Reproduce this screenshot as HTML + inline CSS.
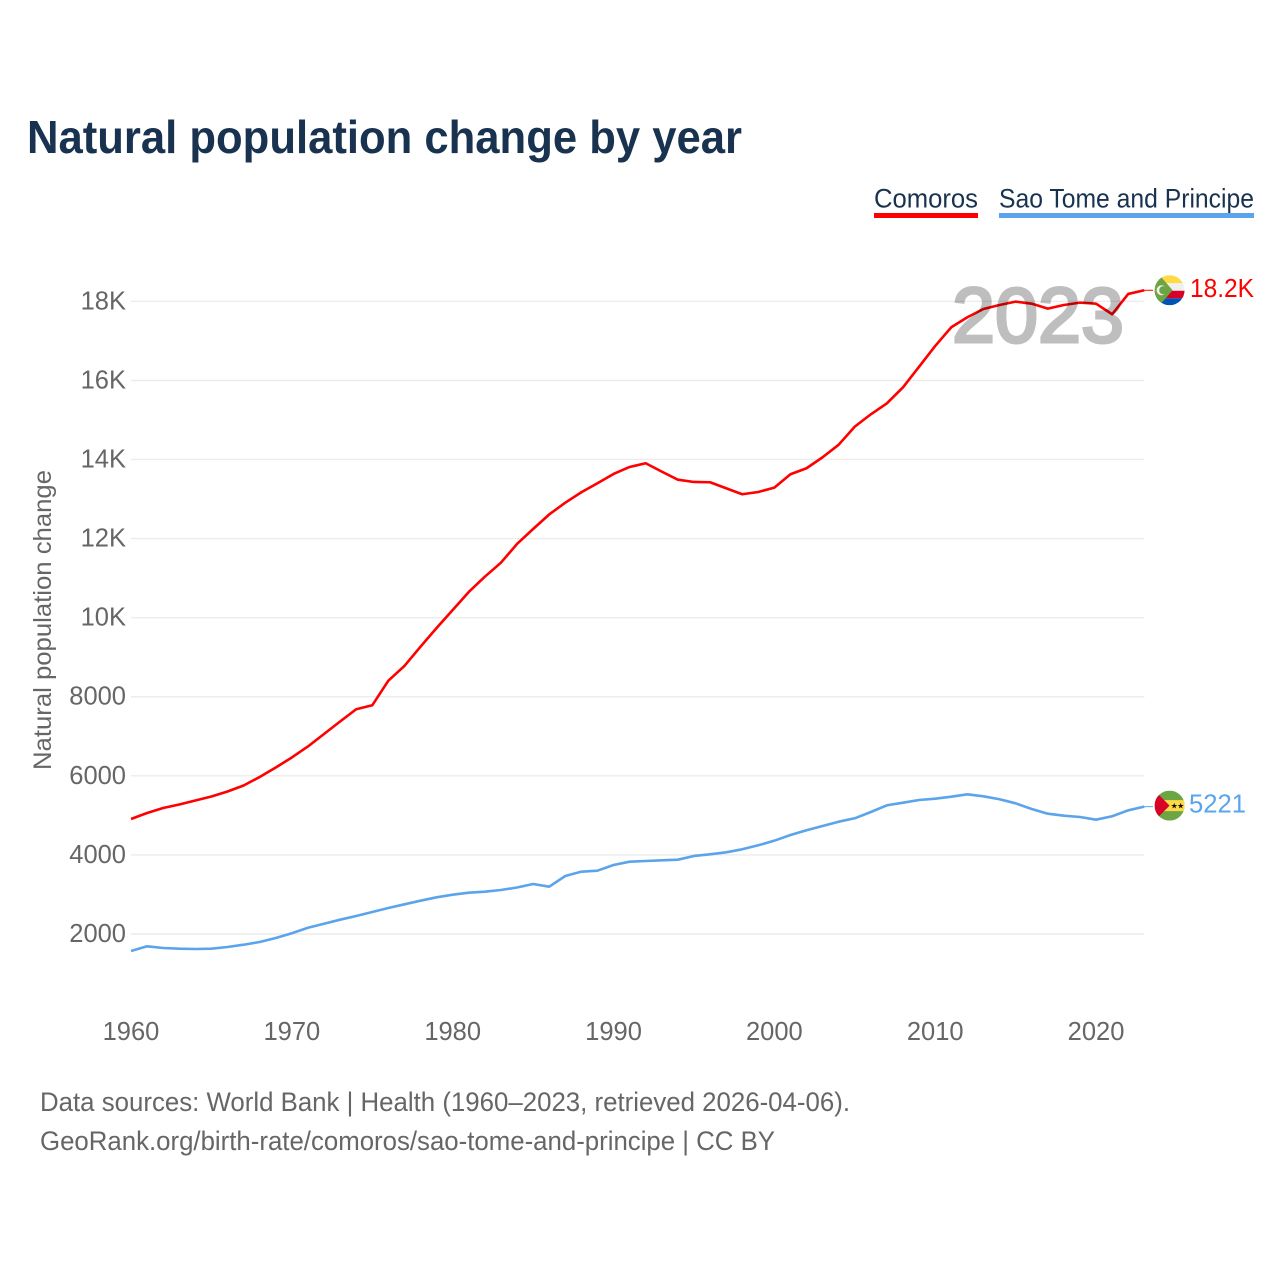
<!DOCTYPE html>
<html lang="en">
<head>
<meta charset="utf-8">
<title>Natural population change by year</title>
<style>
html,body{margin:0;padding:0;background:#fff;}
svg{display:block;font-family:"Liberation Sans",sans-serif;}
</style>
</head>
<body>
<svg id="chart" width="1280" height="1280" viewBox="0 0 1280 1280" xmlns="http://www.w3.org/2000/svg">
  <defs>
    <clipPath id="flag-clip"><circle cx="0" cy="0" r="15"></circle></clipPath>
  </defs>
  <rect x="0" y="0" width="1280" height="1280" fill="#fff"></rect>
  <text x="27" y="153" font-size="46" font-weight="700" fill="#18324f" textLength="715" lengthAdjust="spacingAndGlyphs">Natural population change by year</text>

  <g>
    <text x="874" y="207.5" font-size="27" fill="#18324f" textLength="104" lengthAdjust="spacingAndGlyphs">Comoros</text>
    <rect x="874" y="213" width="104" height="5" fill="#ff0000"></rect>
  </g>
  <g>
    <text x="999" y="207.5" font-size="27" fill="#18324f" textLength="255" lengthAdjust="spacingAndGlyphs">Sao Tome and Principe</text>
    <rect x="999" y="213" width="255" height="5" fill="#5ba4ec"></rect>
  </g>

  <g id="grid"></g>
  <g id="yticks"></g>
  <g id="xticks"></g>
  <text transform="translate(51,770) rotate(-90)" x="0" y="0" font-size="25" fill="#666" textLength="300" lengthAdjust="spacingAndGlyphs">Natural population change</text>
  <g id="series"></g>
  <text id="year-label" x="952" y="342" font-size="78" font-weight="400" fill="#000" stroke="#000" stroke-width="3" opacity="0.25" textLength="172" lengthAdjust="spacingAndGlyphs">2023</text>

  <g id="flag-comoros">
    <g clip-path="url(#flag-clip)">
      <rect x="-15" y="-15" width="30" height="8" fill="#ffda44"></rect>
      <rect x="-15" y="-7" width="30" height="7.5" fill="#f0f0f0"></rect>
      <rect x="-15" y="0.5" width="30" height="7.5" fill="#d80027"></rect>
      <rect x="-15" y="8" width="30" height="7" fill="#0052b4"></rect>
      <polygon points="-15,-15 -10,-15 3,0 -10,15 -15,15" fill="#6da544"></polygon>
      <circle cx="-8" cy="0" r="5" fill="#f0f0f0"></circle>
      <circle cx="-6.2" cy="0" r="4.2" fill="#6da544"></circle>
    </g>
  </g>
  <g id="flag-stp">
    <g clip-path="url(#flag-clip)">
      <rect x="-15" y="-15" width="30" height="30" fill="#6da544"></rect>
      <rect x="-15" y="-5.5" width="30" height="11" fill="#ffda44"></rect>
      <polygon points="-15,-15 0,0 -15,15" fill="#d80027"></polygon>
      <text x="1" y="3" font-size="8" fill="#111" font-family="'DejaVu Sans',sans-serif">★</text>
      <text x="7.5" y="3" font-size="8" fill="#111" font-family="'DejaVu Sans',sans-serif">★</text>
    </g>
  </g>

  <text x="40" y="1111" font-size="27" fill="#666" textLength="810" lengthAdjust="spacingAndGlyphs">Data sources: World Bank | Health (1960–2023, retrieved 2026-04-06).</text>
  <text x="40" y="1150" font-size="27" fill="#666" textLength="735" lengthAdjust="spacingAndGlyphs">GeoRank.org/birth-rate/comoros/sao-tome-and-principe | CC BY</text>
</svg>
<script>
const years = [1960,1961,1962,1963,1964,1965,1966,1967,1968,1969,1970,1971,1972,1973,1974,1975,1976,1977,1978,1979,1980,1981,1982,1983,1984,1985,1986,1987,1988,1989,1990,1991,1992,1993,1994,1995,1996,1997,1998,1999,2000,2001,2002,2003,2004,2005,2006,2007,2008,2009,2010,2011,2012,2013,2014,2015,2016,2017,2018,2019,2020,2021,2022,2023];
const comorosValues = [4908,5060,5187,5275,5376,5477,5604,5756,5971,6211,6464,6742,7058,7374,7683,7784,8406,8778,9266,9739,10194,10649,11036,11390,11863,12242,12609,12908,13171,13398,13633,13810,13904,13692,13489,13431,13424,13272,13120,13178,13287,13626,13778,14056,14374,14830,15143,15421,15826,16347,16871,17343,17596,17806,17907,17991,17940,17814,17907,17966,17940,17672,18186,18279];
const saoTomeValues = [1570,1689,1646,1628,1621,1628,1671,1729,1798,1899,2018,2159,2260,2362,2455,2556,2658,2751,2842,2928,2994,3044,3070,3113,3176,3265,3196,3467,3576,3601,3745,3828,3846,3864,3879,3973,4016,4066,4142,4243,4360,4504,4623,4731,4840,4926,5085,5255,5321,5389,5422,5472,5533,5482,5407,5305,5161,5042,4992,4959,4891,4977,5128,5221];
const yTickValues = [2000,4000,6000,8000,10000,12000,14000,16000,18000];
const yTickLabels = ['2000','4000','6000','8000','10K','12K','14K','16K','18K'];
const xTickValues = [1960,1970,1980,1990,2000,2010,2020];
const comorosEndLabel = '18.2K';
const saoTomeEndLabel = '5221';

const NS = 'http://www.w3.org/2000/svg';
function xScale(year){ return 131 + (year - 1960) * (1144.3 - 131) / 63; }
function yScale(v){ return 934 - (v - 2000) * (934 - 301.3) / 16000; }
function make(tag, parent, attrs, text){
  const el = document.createElementNS(NS, tag);
  Object.keys(attrs).forEach(function(k){ el.setAttribute(k, attrs[k]); });
  if (text !== undefined) el.textContent = text;
  parent.appendChild(el);
  return el;
}

const gridG = document.getElementById('grid');
const yTicksG = document.getElementById('yticks');
const xTicksG = document.getElementById('xticks');
const seriesG = document.getElementById('series');
const svgRoot = document.getElementById('chart');

yTickValues.forEach(function(v, i){
  const line = make('line', gridG, {x1:131, x2:1144.3, y1:yScale(v), y2:yScale(v), stroke:'#ececec', 'stroke-width':1.4});
  
  
  const label = make('text', yTicksG, {x:126, y:yScale(v) + 8, 'text-anchor':'end', 'font-size':25.5, fill:'#666'}, yTickLabels[i]);
  
  
});

xTickValues.forEach(function(yr){
  const label = make('text', xTicksG, {x:xScale(yr), y:1040, 'text-anchor':'middle', 'font-size':25.5, fill:'#666'}, String(yr));
  
  
});

function pathFor(values){
  return values.map(function(v, i){
    return (i ? 'L' : 'M') + xScale(years[i]).toFixed(2) + ' ' + yScale(v).toFixed(2);
  }).join(' ');
}

const lineStp = make('path', seriesG, {d:pathFor(saoTomeValues), fill:'none', stroke:'#5ba4ec', 'stroke-width':2.6, 'stroke-linejoin':'round'});


const lineCom = make('path', seriesG, {d:pathFor(comorosValues), fill:'none', stroke:'#ff0000', 'stroke-width':2.6, 'stroke-linejoin':'round'});



const lastCom = yScale(comorosValues[comorosValues.length - 1]);
const lastStp = yScale(saoTomeValues[saoTomeValues.length - 1]);

const leadCom = make('line', seriesG, {x1:1144.3, x2:1153, y1:lastCom, y2:lastCom, stroke:'#ff0000', 'stroke-width':1});


const leadStp = make('line', seriesG, {x1:1144.3, x2:1153, y1:lastStp, y2:lastStp, stroke:'#5ba4ec', 'stroke-width':1});



document.getElementById('flag-comoros').setAttribute('transform', 'translate(1169.6,' + lastCom.toFixed(2) + ')');
document.getElementById('flag-stp').setAttribute('transform', 'translate(1169.6,' + (lastStp - 1).toFixed(2) + ')');

const endCom = make('text', svgRoot, {x:1190, y:lastCom + 6.5, 'font-size':25.5, fill:'#ff0000', textLength:64, lengthAdjust:'spacingAndGlyphs'}, comorosEndLabel);


const endStp = make('text', svgRoot, {x:1189, y:lastStp + 6, 'font-size':25.5, fill:'#5ba4ec', textLength:57, lengthAdjust:'spacingAndGlyphs'}, saoTomeEndLabel);


</script>
</body>
</html>
